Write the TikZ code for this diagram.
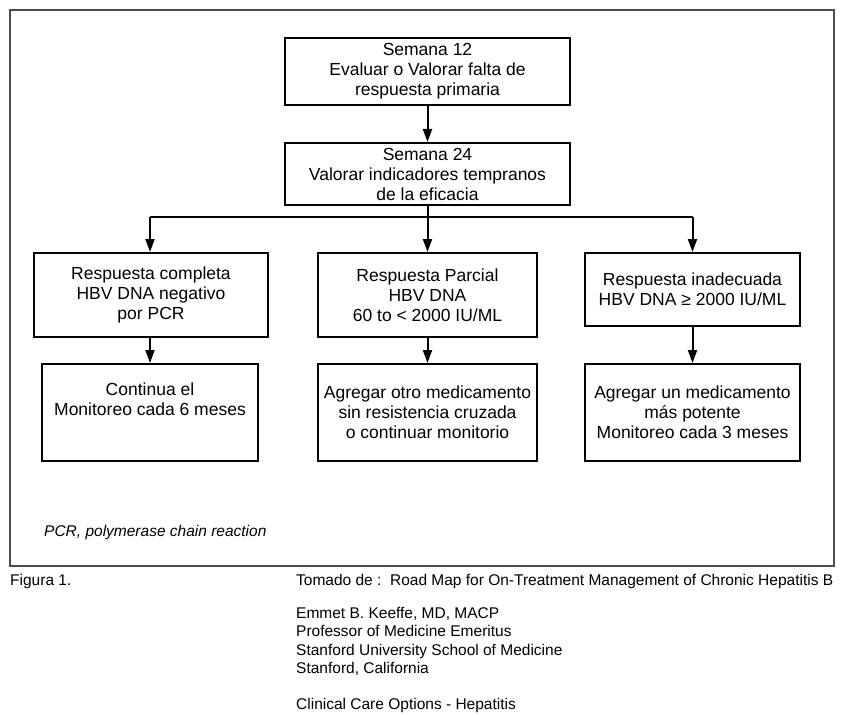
\documentclass[tikz,border=0pt]{standalone}
\usepackage{fontspec}
\setmainfont{Liberation Sans}
\usetikzlibrary{arrows.meta}
\begin{document}
\begin{tikzpicture}[x=1pt,y=-1pt,
  box/.style={draw,line width=2pt,align=center,inner sep=0pt,font=\fontsize{17.5}{20}\selectfont},
  arr/.style={line width=2pt,-{Triangle[length=13pt,width=9pt]}},
  captext/.style={anchor=base west,inner sep=0pt,font=\fontsize{15.5}{18.3}\selectfont}]
\useasboundingbox (0,0) rectangle (845,714);
\draw[line width=1.2pt,black!70] (10,10) rectangle (834,566);
\node[box,minimum width=285pt,minimum height=67pt] (b1) at (427.5,71.5) {Semana 12\\Evaluar o Valorar falta de\\respuesta primaria};
\node[box,minimum width=285pt,minimum height=62pt] (b2) at (427.5,174) {Semana 24\\Valorar indicadores tempranos\\de la eficacia};
\node[box,minimum width=234pt,minimum height=84pt] (l3) at (151,295) {Respuesta completa\\HBV DNA negativo\\por PCR};
\node[box,minimum width=219pt,minimum height=84pt] (m3) at (427.5,295) {Respuesta Parcial\\HBV DNA\\60 to < 2000 IU/ML};
\node[box,minimum width=215pt,minimum height=73pt] (r3) at (692.5,289.5) {Respuesta inadecuada\\HBV DNA ≥ 2000 IU/ML};
\node[box,minimum width=216pt,minimum height=97pt] (l4) at (150,412.5) {Continua el\\Monitoreo cada 6 meses\\\strut};
\node[box,minimum width=219pt,minimum height=97pt] (m4) at (427.5,412.5) {Agregar otro medicamento\\sin resistencia cruzada\\o continuar monitorio};
\node[box,minimum width=215pt,minimum height=97pt] (r4) at (692.5,412.5) {Agregar un medicamento\\más potente\\Monitoreo cada 3 meses};
\coordinate (j) at (427.5,217);
\draw[arr] (b1) -- (b2);
\draw[line width=2pt] (b2.south) -- (j);
\draw[line width=2pt] (j -| l4.north) -- (j -| r3.north);
\draw[arr] (j -| l4.north) -- (l4.north |- l3.north);
\draw[arr] (j) -- (m3);
\draw[arr] (j -| r3.north) -- (r3);
\draw[arr] (l4.north |- l3.south) -- (l4);
\draw[arr] (m3) -- (m4);
\draw[arr] (r3) -- (r4);
\node[captext,font=\fontsize{15.5}{18}\selectfont\itshape] (pcr) at (44,536) {PCR, polymerase chain reaction};
\node[captext] (fig) at (10,585) {Figura 1.};
\node[captext] (tom) at (296,585) {Tomado de :\ \ Road Map for On-Treatment Management of Chronic Hepatitis B};
\node[captext,align=left,anchor=north west] (auth) at (296,607) {Emmet B. Keeffe, MD, MACP\\Professor of Medicine Emeritus\\Stanford University School of Medicine\\Stanford, California};
\node[captext] (cco) at (296,709) {Clinical Care Options - Hepatitis};
\end{tikzpicture}
\end{document}
